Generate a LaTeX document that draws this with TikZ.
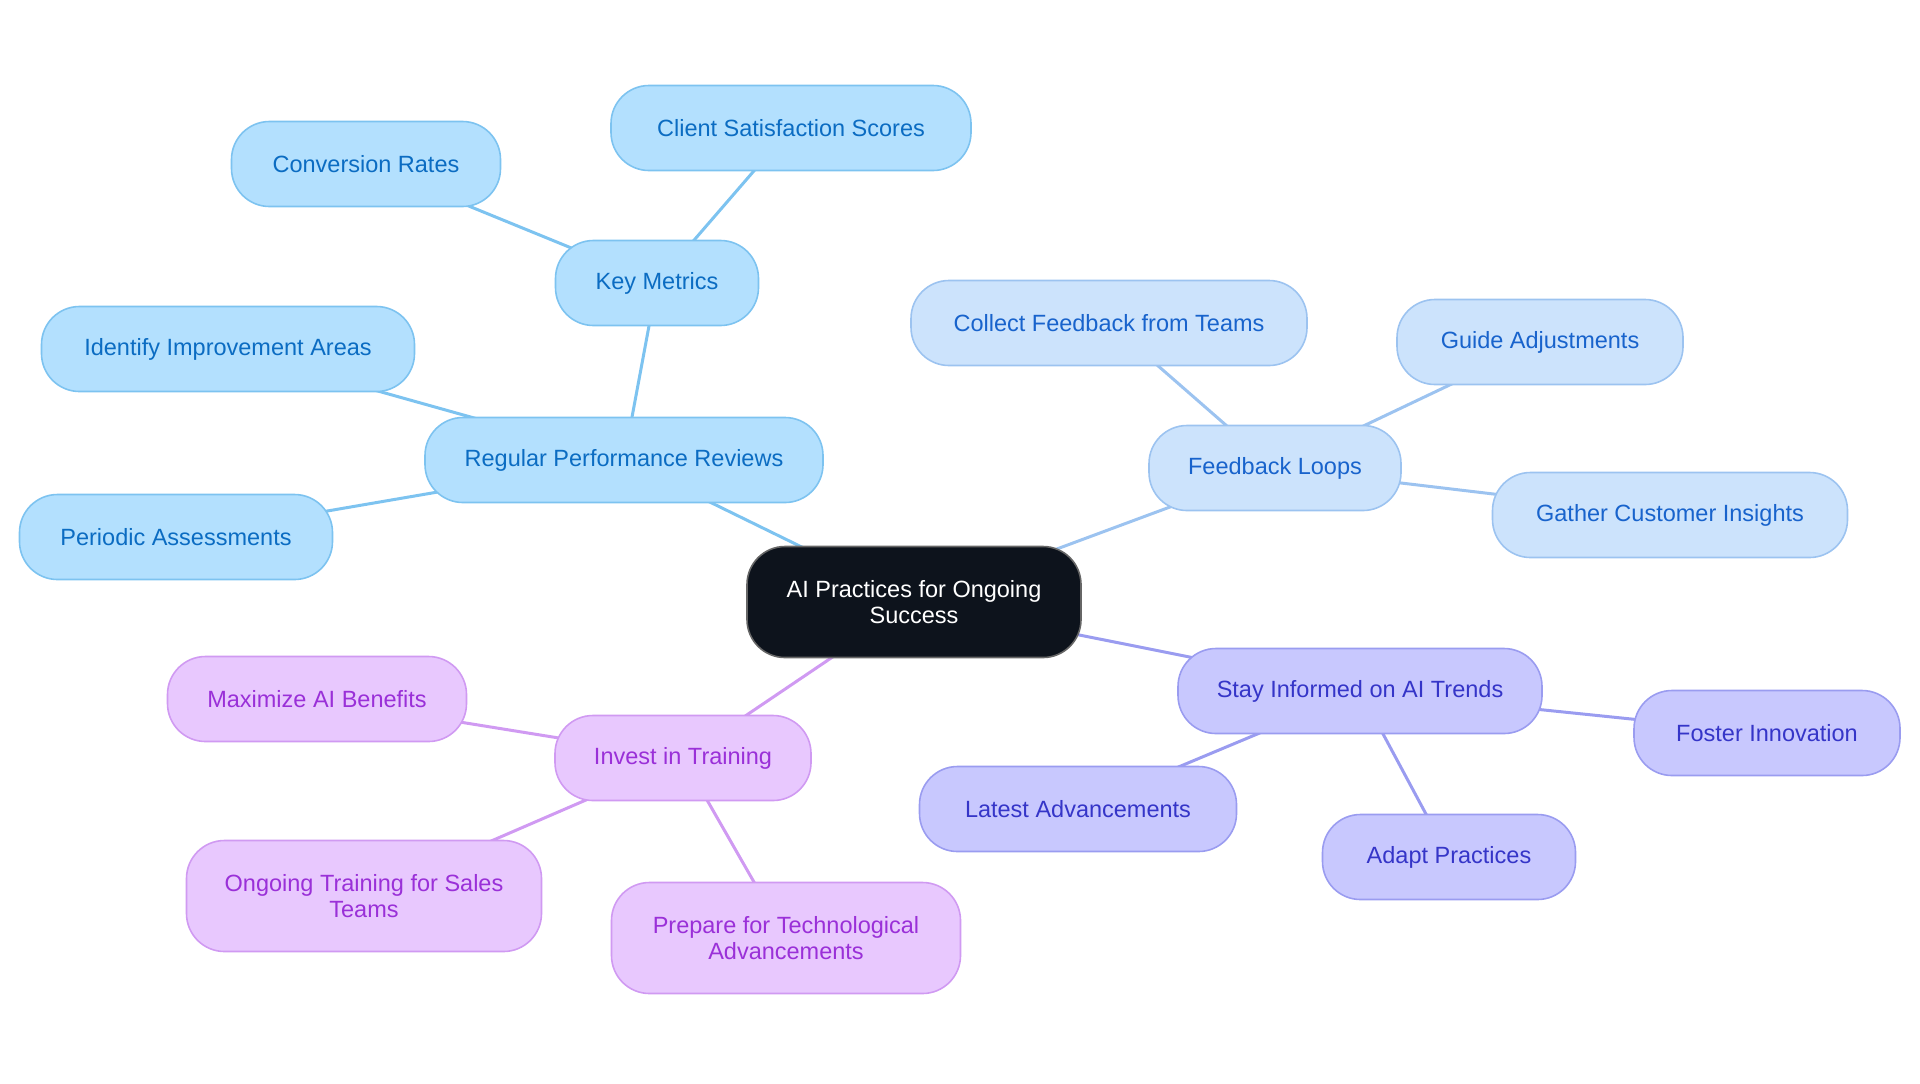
\documentclass[tikz,border=0pt]{standalone}
\usepackage{fontspec}
\setmainfont{Liberation Sans}
\usetikzlibrary{backgrounds}
\definecolor{bfill}{HTML}{B3E0FE}\definecolor{bdraw}{HTML}{7DC3F0}\definecolor{btext}{HTML}{0B6CC2}
\definecolor{ffill}{HTML}{CCE3FC}\definecolor{fdraw}{HTML}{9CC3F0}\definecolor{ftext}{HTML}{1863CC}
\definecolor{ifill}{HTML}{C8C8FE}\definecolor{idraw}{HTML}{9A9CF0}\definecolor{itext}{HTML}{3535C8}
\definecolor{pfill}{HTML}{E8C8FE}\definecolor{pdraw}{HTML}{D09AF2}\definecolor{ptext}{HTML}{9A30D8}
\definecolor{cfill}{HTML}{0D131C}
\tikzset{
  box/.style={rounded corners=19pt, line width=0.8pt, minimum height=42.5pt, inner sep=0pt, align=center,
    font=\fontsize{11.75pt}{13pt}\selectfont},
  bw/.style={minimum width=#1*0.5pt},
  bh/.style={minimum height=#1*0.5pt},
  bnode/.style={box, fill=bfill, draw=bdraw, text=btext},
  fnode/.style={box, fill=ffill, draw=fdraw, text=ftext},
  inode/.style={box, fill=ifill, draw=idraw, text=itext},
  pnode/.style={box, fill=pfill, draw=pdraw, text=ptext},
  cnode/.style={box, fill=cfill, draw=black!60, text=white},
  bedge/.style={draw=bdraw, line width=1.5pt},
  fedge/.style={draw=fdraw, line width=1.5pt},
  iedge/.style={draw=idraw, line width=1.5pt},
  pedge/.style={draw=pdraw, line width=1.5pt},
}
\begin{document}
\begin{tikzpicture}[x=0.5pt,y=-0.5pt]
\useasboundingbox (0,0) rectangle (1920,1083);
\node[cnode, bw=334, bh=111] (c) at (914,602) {AI Practices for Ongoing\\Success};
% blue
\node[bnode, bw=398] (rpr) at (624,460) {Regular Performance Reviews};
\node[bnode, bw=203] (km) at (657,283) {Key Metrics};
\node[bnode, bw=269] (cr) at (366,164) {Conversion Rates};
\node[bnode, bw=360] (css) at (791,128) {Client Satisfaction Scores};
\node[bnode, bw=373] (iia) at (228,349) {Identify Improvement Areas};
\node[bnode, bw=313] (pa) at (176,537) {Periodic Assessments};
% feedback
\node[fnode, bw=252] (fl) at (1275,468) {Feedback Loops};
\node[fnode, bw=396] (cft) at (1109,323) {Collect Feedback from Teams};
\node[fnode, bw=286] (ga) at (1540,342) {Guide Adjustments};
\node[fnode, bw=355] (gci) at (1670,515) {Gather Customer Insights};
% indigo
\node[inode, bw=364] (sit) at (1360,691) {Stay Informed on AI Trends};
\node[inode, bw=266] (fi) at (1767,733) {Foster Innovation};
\node[inode, bw=317] (la) at (1078,809) {Latest Advancements};
\node[inode, bw=253] (ap) at (1449,857) {Adapt Practices};
% purple
\node[pnode, bw=256] (it) at (683,758) {Invest in Training};
\node[pnode, bw=299] (mab) at (317,699) {Maximize AI Benefits};
\node[pnode, bw=355, bh=111] (ots) at (364,896) {Ongoing Training for Sales\\Teams};
\node[pnode, bw=349, bh=111] (pta) at (786,938) {Prepare for Technological\\Advancements};
\begin{scope}[on background layer]
\draw[bedge] (c.center) -- (rpr.center);
\draw[bedge] (rpr.center) -- (km.center);
\draw[bedge] (km.center) -- (cr.center);
\draw[bedge] (km.center) -- (css.center);
\draw[bedge] (rpr.center) -- (iia.center);
\draw[bedge] (rpr.center) -- (pa.center);
\draw[fedge] (c.center) -- (fl.center);
\draw[fedge] (fl.center) -- (cft.center);
\draw[fedge] (fl.center) -- (ga.center);
\draw[fedge] (fl.center) -- (gci.center);
\draw[iedge] (c.center) -- (sit.center);
\draw[iedge] (sit.center) -- (fi.center);
\draw[iedge] (sit.center) -- (la.center);
\draw[iedge] (sit.center) -- (ap.center);
\draw[pedge] (c.center) -- (it.center);
\draw[pedge] (it.center) -- (mab.center);
\draw[pedge] (it.center) -- (ots.center);
\draw[pedge] (it.center) -- (pta.center);
\end{scope}
\end{tikzpicture}
\end{document}
